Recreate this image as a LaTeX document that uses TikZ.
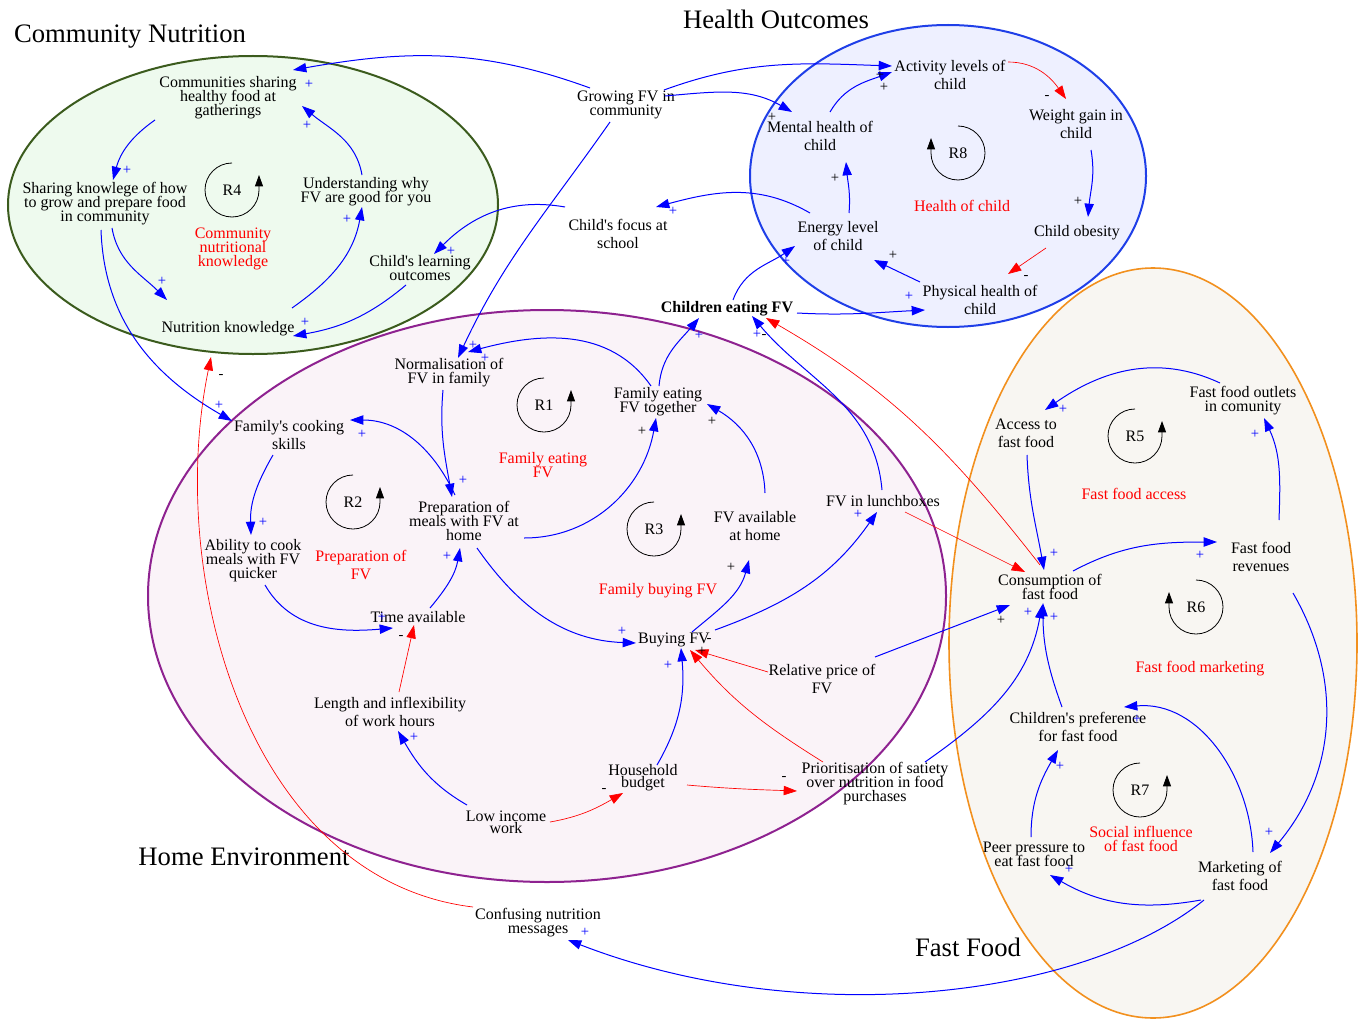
\documentclass[tikz,border=0pt]{standalone}
\usepackage{fontspec}
\setmainfont{Liberation Serif}
\usetikzlibrary{arrows.meta}

\definecolor{cngreen}{HTML}{3B5B1D}
\definecolor{cnfill}{HTML}{EEFAEE}
\definecolor{hoblue}{HTML}{1F3FE8}
\definecolor{hofill}{HTML}{EEF0FF}
\definecolor{hepurple}{HTML}{8E2290}
\definecolor{hefill}{HTML}{FAF3F8}
\definecolor{fforange}{HTML}{F2901E}
\definecolor{fffill}{HTML}{F8F6F2}

\newcommand{\tightls}{\lineskiplimit-20pt\relax}

\begin{document}
\begin{tikzpicture}[x=0.75pt, y=0.75pt,
  var/.style={align=center, inner sep=0pt, font=\fontsize{12}{10.5}\selectfont\tightls},
  varw/.style={var, font=\fontsize{12}{13.5}\selectfont\tightls},
  vart/.style={var, font=\fontsize{12}{9}\selectfont\tightls},
  loopname/.style={var, text=red},
  title/.style={inner sep=0pt, font=\fontsize{20}{24}\selectfont},
  plink/.style={draw=blue, line width=0.75pt, -{Triangle[length=10pt,width=7pt]}, blue},
  nlink/.style={draw=red, line width=0.5pt, -{Triangle[length=10pt,width=7pt]}, red},
  loopar/.style={line width=0.6pt, -{Triangle[length=8.5pt,width=6pt]}},
  sgn/.style={inner sep=0pt, font=\fontsize{11}{11}\selectfont}]

\fill[white] (0,0) rectangle (1362,-1020);
\useasboundingbox (0,0) rectangle (1362,-1020);

% regions
\fill[hefill] (547,-596) ellipse [x radius=399, y radius=286];
\fill[cnfill] (253,-205) ellipse [x radius=245, y radius=149];
\fill[hofill] (948,-176) ellipse [x radius=198, y radius=151];
\fill[fffill] (1153,-643) ellipse [x radius=204, y radius=375];
\draw[hepurple, line width=1.5pt] (547,-596) ellipse [x radius=399, y radius=286];
\draw[cngreen, line width=1.5pt] (253,-205) ellipse [x radius=245, y radius=149];
\draw[hoblue, line width=1.5pt] (948,-176) ellipse [x radius=198, y radius=151];
\draw[fforange, line width=1.2pt] (1153,-643) ellipse [x radius=204, y radius=375];

\node[title] (tcn) at (130,-37) {Community Nutrition};
\node[title] (tho) at (776,-19) {Health Outcomes};
\node[title] (the) at (244,-857) {Home Environment};
\node[title] (tff) at (968,-947) {Fast Food};

% community nutrition
\node[var] (csh) at (228,-98) {Communities sharing\\healthy food at\\gatherings};
\node[var] (sk) at (105,-204) {Sharing knowlege of how\\to grow and prepare food\\in community};
\node[var] (und) at (366,-192) {Understanding why\\FV are good for you};
\node[var] (nk) at (228,-329) {Nutrition knowledge};
\node[var] (cl) at (420,-268) {Child\textquotesingle s learning\\outcomes};
\node[var] (gfv) at (626,-105) {Growing FV in\\community};
\node[varw] (cfs) at (618,-234) {Child\textquotesingle s focus at\\school};

% health outcomes
\node[varw] (act) at (950,-75) {Activity levels of\\child};
\node[varw] (wg) at (1076,-124) {Weight gain in\\child};
\node[varw] (mh) at (820,-136) {Mental health of\\child};
\node[varw] (en) at (838,-236) {Energy level\\of child};
\node[var] (co) at (1077,-233) {Child obesity};
\node[varw] (ph) at (980,-300) {Physical health of\\child};
\node[var, font=\fontsize{12}{10.5}\selectfont\bfseries] (cefv) at (727,-309) {Children eating FV};

% home environment
\node[var] (norm) at (449,-373) {Normalisation of\\FV in family};
\node[var] (fet) at (658,-402) {Family eating\\FV together};
\node[varw] (fcs) at (289,-435) {Family\textquotesingle s cooking\\skills};
\node[var] (prep) at (464,-521) {Preparation of\\meals with FV at\\home};
\node[var] (abl) at (253,-561) {Ability to cook\\meals with FV\\quicker};
\node[varw] (fva) at (755,-526) {FV available\\at home};
\node[var] (lunch) at (883,-501) {FV in lunchboxes};
\node[var] (time) at (418,-617) {Time available};
\node[var] (buy) at (674,-640) {Buying FV};
\node[varw] (rp) at (822,-679) {Relative price of\\FV};
\node[varw] (len) at (390,-712) {Length and inflexibility\\of work hours};
\node[vart] (hb) at (643,-778) {Household\\budget};
\node[vart] (low) at (506,-822) {Low income\\work};
\node[var] (pri) at (875,-784) {Prioritisation of satiety\\over nutrition in food\\purchases};
\node[var] (conf) at (538,-923) {Confusing nutrition\\messages};

% fast food
\node[varw] (acc) at (1026,-433) {Access to\\fast food};
\node[var] (ffo) at (1243,-401) {Fast food outlets\\in comunity};
\node[var] (cons) at (1050,-587) {Consumption of\\fast food};
\node[varw] (rev) at (1261,-557) {Fast food\\revenues};
\node[varw] (pref) at (1078,-727) {Children\textquotesingle s preference\\for fast food};
\node[var] (peer) at (1034,-854) {Peer pressure to\\eat fast food};
\node[varw] (mkt) at (1240,-876) {Marketing of\\fast food};

% loops
\foreach \n/\x/\y in {R1/544/405, R2/353/502, R3/654/529, R4/232/190, R5/1135/436, R7/1140/790} {
  \node[var] (\n) at (\x,-\y) {\n};
  \draw[loopar] (\n.center) ++(90:27) arc[start angle=90, end angle=360, radius=27] -- ++(0,15);
}
\foreach \n/\x/\y in {R6/1196/607, R8/958/153} {
  \node[var] (\n) at (\x,-\y) {\n};
  \draw[loopar] (\n.center) ++(90:27) arc[start angle=90, end angle=-180, radius=27] -- ++(0,15);
}
\node[loopname] (ln4) at (233,-249) {Community\\nutritional\\knowledge};
\node[loopname] (ln8) at (962,-206) {Health of child};
\node[loopname] (ln1) at (543,-465) {Family eating\\FV};
\node[loopname, font=\fontsize{12}{13.5}\selectfont] (ln2) at (361,-565) {Preparation of\\FV};
\node[loopname] (ln3) at (658,-591) {Family buying FV};
\node[loopname] (ln5) at (1134,-494) {Fast food access};
\node[loopname] (ln6) at (1200,-669) {Fast food marketing};
\node[loopname] (ln7) at (1141,-839) {Social influence\\of fast food};

% links
\draw[plink] ([shift={(-36,17)}]gfv.center) to[out=160,in=10] ([shift={(65,28)}]csh.center);
\draw[plink] ([shift={(-73,-22)}]csh.center) to[out=215,in=75] ([shift={(8,24)}]sk.center);
\draw[plink] ([shift={(-4,17)}]und.center) to[out=100,in=-40] ([shift={(74,-8)}]csh.center);
\draw[plink] ([shift={(7,-24)}]sk.center) to[out=-80,in=135] ([shift={(-61,29)}]nk.center);
\draw[plink] ([shift={(64,21)}]nk.center) to[out=35,in=-100] ([shift={(-4,-15)}]und.center);
\draw[plink] ([shift={(-14,-17)}]cl.center) to[out=220,in=10] ([shift={(65,-7)}]nk.center);
\draw[plink] ([shift={(-53,27)}]cfs.center) to[out=170,in=45] ([shift={(14,14)}]cl.center);
\draw[plink] ([shift={(-4,-26)}]sk.center) to[out=-88,in=150] ([shift={(-57,14)}]fcs.center);
\draw[plink] ([shift={(-16,-17)}]gfv.center) to[out=235,in=65] ([shift={(9,15)}]norm.center);
\draw[plink] ([shift={(38,15)}]gfv.center) to[out=20,in=178] ([shift={(-58,9)}]act.center);
\draw[plink] ([shift={(39,9)}]gfv.center) to[out=5,in=150] ([shift={(-28,24)}]mh.center);
\draw[plink] ([shift={(10,24)}]mh.center) to[out=60,in=200] ([shift={(-58,3)}]act.center);
\draw[nlink] ([shift={(58,13)}]act.center) to[out=0,in=125] ([shift={(-10,25)}]wg.center);
\draw[plink] ([shift={(15,-26)}]wg.center) to[out=-80,in=85] ([shift={(11,16)}]co.center);
\draw[nlink] ([shift={(-31,-15)}]co.center) -- ([shift={(28,26)}]ph.center);
\draw[plink] ([shift={(-60,18)}]ph.center) -- ([shift={(36,-24)}]en.center);
\draw[plink] ([shift={(11,23)}]en.center) to[out=85,in=-85] ([shift={(26,-26)}]mh.center);
\draw[plink] ([shift={(-28,23)}]en.center) to[out=150,in=15] ([shift={(38,27)}]cfs.center);
\draw[plink] ([shift={(6,9)}]cefv.center) to[out=70,in=215] ([shift={(-43,-10)}]en.center);
\draw[plink] ([shift={(70,-4)}]cefv.center) to[out=-3,in=183] ([shift={(-55,-10)}]ph.center);
\draw[plink] ([shift={(1,16)}]fet.center) to[out=85,in=230] ([shift={(-28,-9)}]cefv.center);
\draw[plink] ([shift={(-1,11)}]lunch.center) to[out=95,in=-50] ([shift={(25,-7)}]cefv.center);
\draw[nlink] ([shift={(-10,22)}]cons.center) to[out=128,in=-30] ([shift={(39,-9)}]cefv.center);
\draw[nlink] ([shift={(22,-11)}]lunch.center) -- ([shift={(-25,15)}]cons.center);
\draw[plink] ([shift={(-7,16)}]fet.center) to[out=125,in=15] ([shift={(19,21)}]norm.center);
\draw[plink] ([shift={(-6,-17)}]norm.center) to[out=-95,in=100] ([shift={(-12,24)}]prep.center);
\draw[plink] ([shift={(-9,26)}]prep.center) to[out=115,in=0] ([shift={(61,15)}]fcs.center);
\draw[plink] ([shift={(-16,-20)}]fcs.center) to[out=240,in=92] ([shift={(-2,26)}]abl.center);
\draw[plink] ([shift={(12,-24)}]abl.center) to[out=-60,in=185] ([shift={(-25,-11)}]time.center);
\draw[plink] ([shift={(12,9)}]time.center) to[out=50,in=-100] ([shift={(-4,-27)}]prep.center);
\draw[nlink] ([shift={(9,20)}]len.center) -- ([shift={(-4,-8)}]time.center);
\draw[plink] ([shift={(-39,17)}]low.center) to[out=150,in=-60] ([shift={(8,-19)}]len.center);
\draw[nlink] ([shift={(44,0)}]low.center) to[out=10,in=210] ([shift={(-20,-15)}]hb.center);
\draw[plink] ([shift={(14,13)}]hb.center) to[out=60,in=-85] ([shift={(7,-8)}]buy.center);
\draw[nlink] ([shift={(44,-7)}]hb.center) to[out=-5,in=178] ([shift={(-78,-7)}]pri.center);
\draw[nlink] ([shift={(-52,22)}]pri.center) to[out=148,in=-50] ([shift={(16,-10)}]buy.center);
\draw[nlink] ([shift={(-54,7)}]rp.center) -- ([shift={(21,-10)}]buy.center);
\draw[plink] ([shift={(13,-27)}]prep.center) to[out=-55,in=178] ([shift={(-38,-3)}]buy.center);
\draw[plink] ([shift={(60,-17)}]prep.center) to[out=0,in=-100] ([shift={(-2,-16)}]fet.center);
\draw[plink] ([shift={(10,33)}]fva.center) to[out=92,in=-30] ([shift={(49,-2)}]fet.center);
\draw[plink] ([shift={(18,8)}]buy.center) to[out=40,in=-105] ([shift={(-6,-34)}]fva.center);
\draw[plink] ([shift={(41,10)}]buy.center) to[out=20,in=-125] ([shift={(-6,-11)}]lunch.center);
\draw[plink] ([shift={(53,22)}]rp.center) -- ([shift={(-40,-18)}]cons.center);
\draw[plink] ([shift={(50,22)}]pri.center) to[out=35,in=-100] ([shift={(-8,-18)}]cons.center);
\draw[nlink] ([shift={(-65,16)}]conf.center) .. controls (250,-880) and (165,-580) .. ([shift={(-17,-28)}]nk.center);
\draw[plink] ([shift={(-23,18)}]ffo.center) to[out=155,in=35] ([shift={(19,23)}]acc.center);
\draw[plink] ([shift={(1,-22)}]acc.center) to[out=-88,in=100] ([shift={(-6,17)}]cons.center);
\draw[plink] ([shift={(23,16)}]cons.center) to[out=28,in=180] ([shift={(-44,15)}]rev.center);
\draw[plink] ([shift={(18,37)}]rev.center) to[out=88,in=-65] ([shift={(21,-17)}]ffo.center);
\draw[plink] ([shift={(32,-36)}]rev.center) to[out=-60,in=50] ([shift={(30,23)}]mkt.center);
\draw[plink] ([shift={(13,24)}]mkt.center) to[out=92,in=5] ([shift={(46,20)}]pref.center);
\draw[plink] ([shift={(-39,-24)}]mkt.center) to[out=190,in=-30] ([shift={(16,-21)}]peer.center);
\draw[plink] ([shift={(-3,17)}]peer.center) to[out=90,in=-120] ([shift={(-20,-23)}]pref.center);
\draw[plink] ([shift={(-16,20)}]pref.center) to[out=110,in=-90] ([shift={(-7,-16)}]cons.center);
\draw[plink] ([shift={(-36,-24)}]mkt.center) .. controls (1080,-1000) and (800,-1030) .. ([shift={(30,-17)}]conf.center);

% polarities
\foreach \x/\y [count=\i] in {309/84, 127/170, 307/125, 162/281, 347/219, 305/322, 451/251, 219/405,
    673/211, 786/261, 909/296, 699/335, 757/334, 473/345, 485/358, 463/480, 362/434, 263/522,
    382/617, 447/556, 414/737, 858/514, 622/631, 668/665, 1028/612, 1054/617, 585/932,
    1063/409, 1054/553, 1200/555, 1255/434, 1269/832, 1137/719, 1069/869, 1060/766}
  \node[sgn, text=blue] (bp\i) at (\x,-\y) {+};
\foreach \x/\y [count=\i] in {880/75, 884/87, 772/117, 1078/201, 893/255, 835/178, 642/431,
    712/421, 731/567, 702/651, 1001/620}
  \node[sgn] (kp\i) at (\x,-\y) {+};
\foreach \x/\y [count=\i] in {1047/97, 1026/277, 764/336, 401/637, 604/790, 784/778, 709/640, 221/376}
  \node[sgn] (km\i) at (\x,-\y) {-};
\end{tikzpicture}
\end{document}
